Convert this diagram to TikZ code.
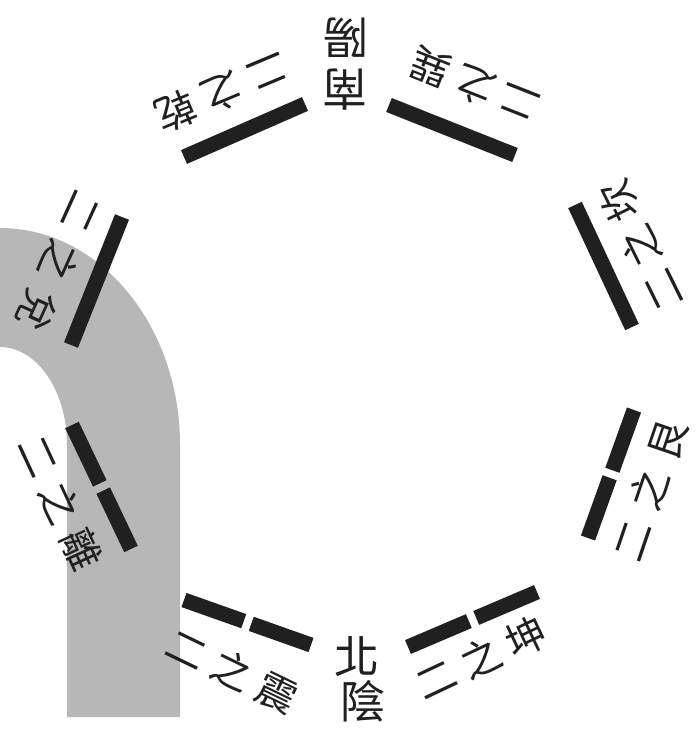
\documentclass[tikz,border=0pt]{standalone}
\usepackage{fontspec}
\newfontfamily\cjk{Noto Sans CJK TC}
\usetikzlibrary{calc}
\definecolor{band}{RGB}{183,183,183}
\definecolor{ink}{RGB}{32,32,32}
\tikzset{
  barline/.style={draw=ink, line width=15pt, line cap=butt},
  lbl/.style={inner sep=0pt, text=ink, font=\cjk\fontsize{40}{40}\selectfont},
  big/.style={inner sep=0pt, text=ink, font=\cjk\fontsize{45}{45}\selectfont}
}
\newcommand{\tri}[4]{#2\hspace{#1}#3\hspace{#1}#4}
\begin{document}
\begin{tikzpicture}[x=1pt,y=-1pt]
\useasboundingbox (0,0) rectangle (698,735);
\fill[white] (0,0) rectangle (698,735);
% gray band
\fill[band] (0,228) arc[start angle=-90, end angle=0, x radius=180, y radius=217]
  -- (180,717) -- (67,717) -- (67,445)
  arc[start angle=0, end angle=-90, x radius=67, y radius=98] -- cycle;
% bar end points
\coordinate (qA) at (184,157); \coordinate (qB) at (305,104);   % qian
\coordinate (xA) at (389,105); \coordinate (xB) at (515,155);   % xun
\coordinate (kA) at (575,205); \coordinate (kB) at (632,327);   % kan
\coordinate (gA) at (634,410); \coordinate (gB) at (588,538);   % gen
\coordinate (nA) at (408,647); \coordinate (nB) at (537,592);   % kun
\coordinate (zA) at (184,600); \coordinate (zB) at (311,645);   % zhen
\coordinate (lA) at (72,425);  \coordinate (lB) at (131,549);   % li
\coordinate (dA) at (122,217); \coordinate (dB) at (71,345);    % dui
\coordinate (gM) at ($(gA)!0.5!(gB)$);
\coordinate (nM) at ($(nA)!0.5!(nB)$);
\coordinate (zM) at ($(zA)!0.5!(zB)$);
\coordinate (lM) at ($(lA)!0.5!(lB)$);
% solid bars
\draw[barline] (qA) -- (qB);
\draw[barline] (xA) -- (xB);
\draw[barline] (kA) -- (kB);
\draw[barline] (dA) -- (dB);
% broken bars
\draw[barline] (gA) -- ($(gM)!4pt!(gA)$);
\draw[barline] ($(gM)!4pt!(gB)$) -- (gB);
\draw[barline] (nA) -- ($(nM)!4pt!(nA)$);
\draw[barline] ($(nM)!4pt!(nB)$) -- (nB);
\draw[barline] (zA) -- ($(zM)!4pt!(zA)$);
\draw[barline] ($(zM)!4pt!(zB)$) -- (zB);
\draw[barline] (lA) -- ($(lM)!4pt!(lA)$);
\draw[barline] ($(lM)!4pt!(lB)$) -- (lB);
% south / north
\node[big, rotate=180] (yang) at (346,38) {陽};
\node[big, rotate=180] (nan) at (345,90) {南};
\node[big] (bei) at (357,657) {北};
\node[big] (yin) at (363,701) {陰};
% trigram labels
\node[lbl, rotate=202.7] (qian) at (222,92)  {\tri{10pt}{二}{之}{乾}};
\node[lbl, rotate=158.5] (xun)  at (475,85)  {\tri{8pt}{二}{之}{巽}};
\node[lbl, rotate=116.3] (kan)  at (641,246) {\tri{10pt}{二}{之}{坎}};
\node[lbl, rotate=71.2]  (gen)  at (650,490) {\tri{13pt}{二}{之}{艮}};
\node[lbl, rotate=25.3]  (kun)  at (481,658) {\tri{10pt}{二}{之}{坤}};
\node[lbl, rotate=-25.8] (zhen) at (232,671) {\tri{10pt}{二}{之}{震}};
\node[lbl, rotate=294.8] (li)   at (60,503)  {\tri{11pt}{二}{之}{離}};
\node[lbl, rotate=245.6] (dui)  at (59,261)  {\tri{14pt}{二}{之}{兌}};
\end{tikzpicture}
\end{document}
